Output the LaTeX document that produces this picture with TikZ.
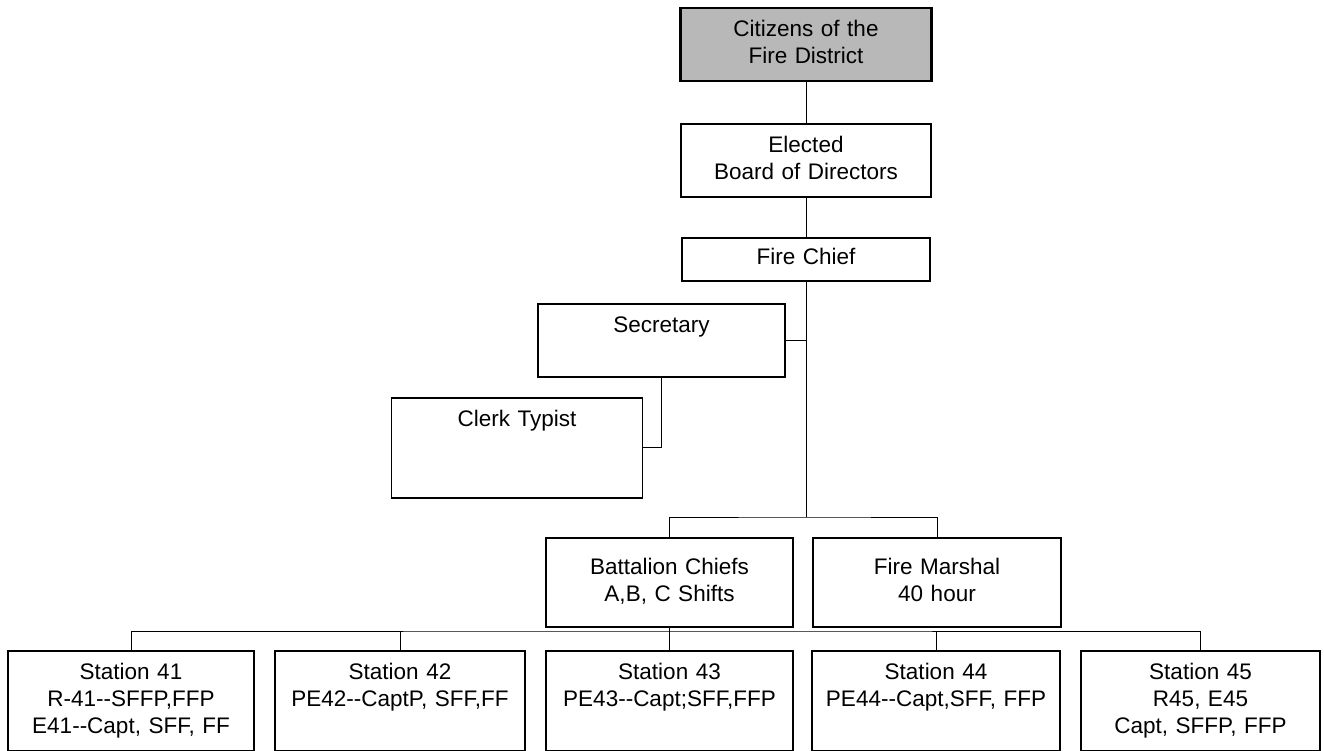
\documentclass[tikz,border=0pt]{standalone}
\usepackage{fontspec}
\setmainfont{Liberation Sans}

\tikzset{
  orgbox/.style={draw, line width=1.6pt, anchor=north, align=center,
    text width=#1, inner xsep=4pt, inner ysep=9.5pt,
    font=\fontsize{22.5}{27}\selectfont,
    execute at begin node=\strut, execute at end node=\strut},
  link/.style={line width=1pt}
}

\begin{document}
\begin{tikzpicture}[x=1pt,y=-1pt]
    \useasboundingbox (0,0) rectangle (1324,751);

    % Top of the chain
    \node[orgbox=243pt, fill=black!28, line width=2.4pt] (citizens) at (806,7) {Citizens of the\\Fire District};
    \node[orgbox=242pt] (board) at (806,123) {Elected\\Board of Directors};
    \node[orgbox=240pt, inner ysep=8pt] (chief) at (806,237) {Fire Chief};

    % Office staff
    \node[orgbox=239pt] (secretary) at (661.5,303) {Secretary\\};
    \node[orgbox=243pt] (clerk) at (517,397) {Clerk Typist\\\strut\\};

    % Operations
    \node[orgbox=239pt, minimum height=89pt] (battalion) at (669.5,537) {Battalion Chiefs\\A,B, C Shifts};
    \node[orgbox=240pt, minimum height=89pt] (marshal) at (937,537) {Fire Marshal\\40 hour};

    % Stations
    \node[orgbox=238pt] (st41) at (131,650) {Station 41\\R-41-{}-SFFP,FFP\\E41-{}-Capt, SFF, FF};
    \node[orgbox=242pt] (st42) at (400,650) {Station 42\\PE42-{}-CaptP, SFF,FF\\};
    \node[orgbox=239pt] (st43) at (669.5,650) {Station 43\\PE43-{}-Capt;SFF,FFP\\};
    \node[orgbox=240pt] (st44) at (936,650) {Station 44\\PE44-{}-Capt,SFF, FFP\\};
    \node[orgbox=231pt] (st45) at (1200.5,650) {Station 45\\R45, E45\\Capt, SFFP, FFP};

    % Connections
    \coordinate (upbar) at (806,517);
    \coordinate (lowbar) at (669.5,631);
    \draw[link] (citizens.south) -- (board.north);
    \draw[link] (board.south) -- (chief.north);
    \draw[link] (chief.south) -- (upbar);
    \draw[link] (secretary.east) -- (secretary.east -| chief.south);
    \draw[link] (secretary.south) |- (clerk.east);
    \draw[link] (battalion.north) |- (upbar) -| (marshal.north);
    \draw[link] (battalion.south) -- (st43.north);
    \draw[link] (st41.north) |- (lowbar) -| (st45.north);
    \draw[link] (st42.north) -- (st42.north |- lowbar);
    \draw[link] (st44.north) -- (st44.north |- lowbar);
\end{tikzpicture}
\end{document}
